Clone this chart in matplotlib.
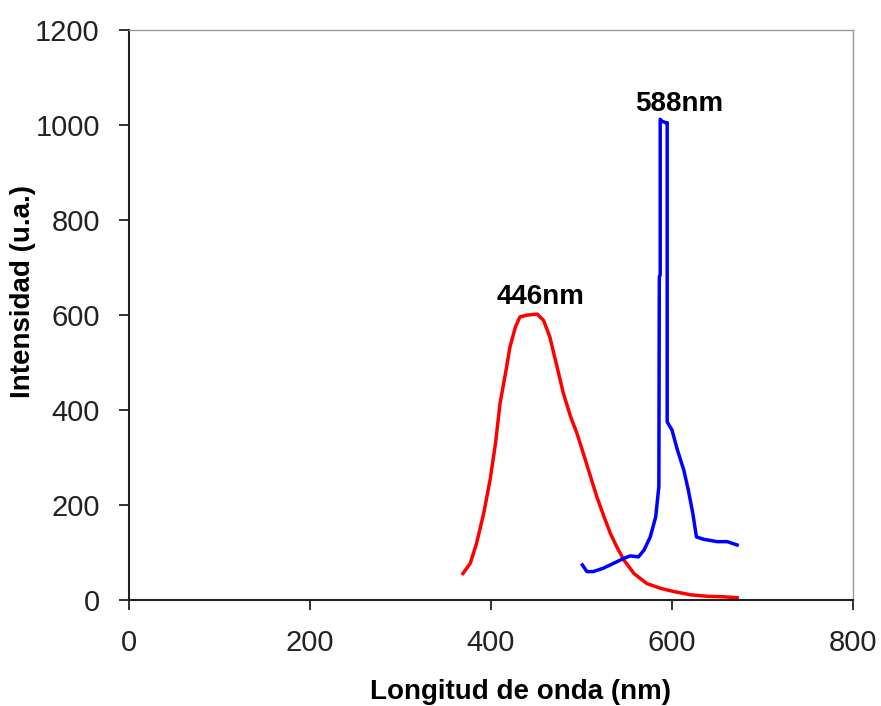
import numpy as np
import matplotlib.pyplot as plt

plt.rcParams['font.family'] = ['Liberation Sans', 'DejaVu Sans']

# Red emission band (peak at 446 nm)
red_x = [369, 377, 384, 392, 399, 405, 410, 416, 421, 427, 432, 440, 451, 458,
         465, 473, 480, 488, 495, 502, 510, 517, 525, 532, 539, 547, 558, 572,
         587, 602, 621, 639, 657, 672]
red_y = [56, 77, 119, 183, 253, 330, 414, 477, 533, 575, 596, 600, 602, 589,
         554, 491, 435, 386, 351, 309, 260, 217, 175, 140, 112, 84, 56, 35,
         25, 18, 11, 8, 7, 5]

# Blue emission band (sharp peak at 588 nm)
blue_x = [501, 506, 513, 524, 535, 547, 554, 563, 569, 576, 582, 585.5, 586,
          587, 587, 589, 593, 594.7, 594.7, 600, 606, 613, 618, 623, 627, 635,
          650, 661, 672]
blue_y = [74, 60, 60, 67, 77, 88, 93, 91, 105, 133, 175, 239, 680, 685, 1012,
          1008, 1005, 1005, 375, 358, 316, 274, 232, 183, 133, 128, 123, 123, 116]

x_ticks = [0, 200, 400, 600, 800]
y_ticks = [0, 200, 400, 600, 800, 1000, 1200]

fig = plt.figure(figsize=(8.81, 7.06), dpi=100)
ax = fig.add_axes([0.1464, 0.150, 0.8218, 0.8075])

ax.plot(red_x, red_y, color='#FF0000', linewidth=2.5)
ax.plot(blue_x, blue_y, color='#0000FF', linewidth=2.5)

ax.text(455, 638, '446nm', ha='center', va='center', fontsize=20, fontweight='bold')
ax.text(608, 1044, '588nm', ha='center', va='center', fontsize=20, fontweight='bold')

ax.set_xlim(0, 800)
ax.set_ylim(0, 1200)
ax.set_xticks(x_ticks)
ax.set_yticks(y_ticks)
ax.tick_params(axis='both', direction='out', length=7, width=1.3, labelsize=21,
               colors='#222222', pad=14)

for s in ['top', 'right']:
    ax.spines[s].set_color('#999999')
    ax.spines[s].set_linewidth(1.0)
for s in ['left', 'bottom']:
    ax.spines[s].set_color('#222222')
    ax.spines[s].set_linewidth(1.5)

# axis titles placed like in the original
fig.text(521 / 881, 1 - 692 / 706, 'Longitud de onda (nm)', ha='center', va='center',
         fontsize=20, fontweight='bold')
fig.text(23 / 881, 1 - 292 / 706, 'Intensidad (u.a.)', ha='center', va='center',
         rotation=90, fontsize=20, fontweight='bold')

fig.savefig('out.png', dpi=100)
